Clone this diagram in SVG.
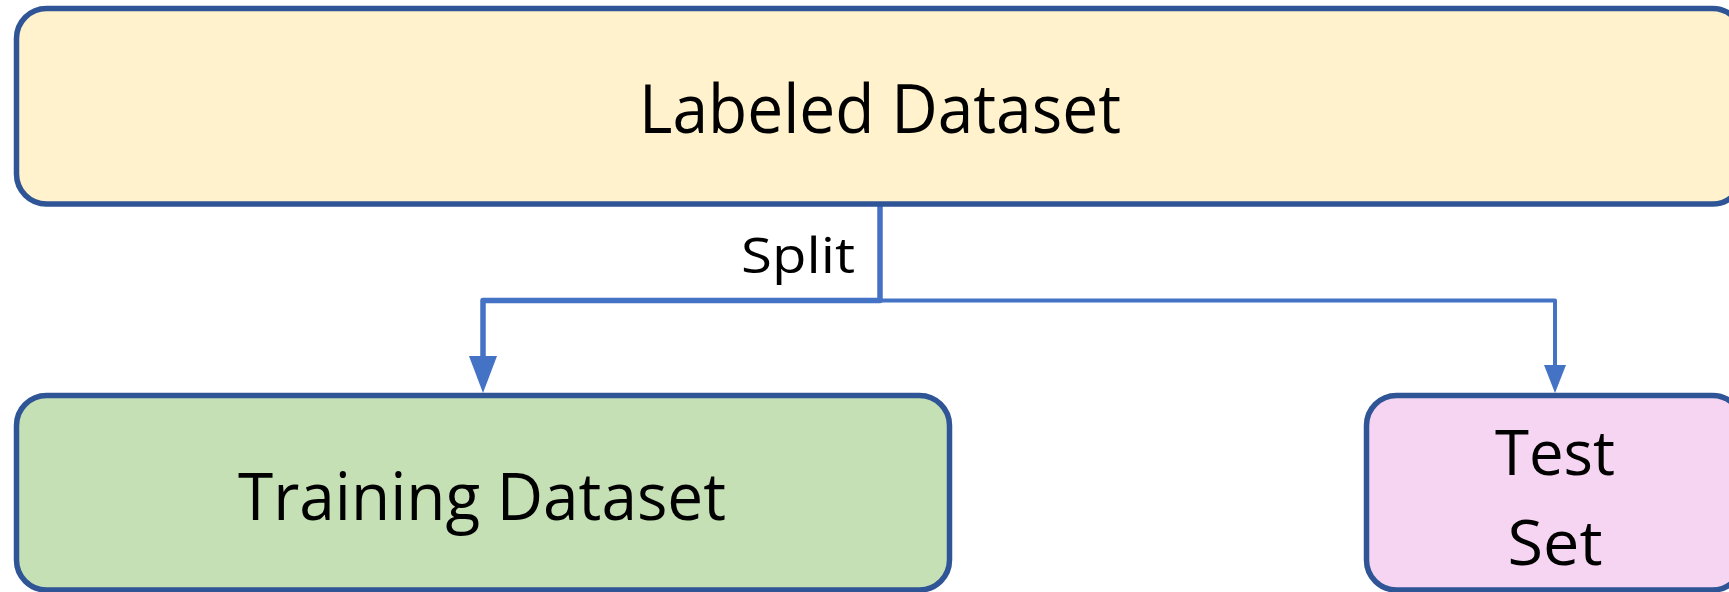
<svg xmlns="http://www.w3.org/2000/svg" width="1729" height="592" viewBox="0 0 1729 592">
  <style>
    .box { stroke: #2F5597; stroke-width: 5.5; }
    .label { font-family: "Open Sans", "Noto Sans", "Liberation Sans", sans-serif; fill: #000000; text-anchor: middle; }
    .conn { fill: none; stroke: #4472C4; stroke-linejoin: round; }
  </style>
  <defs>
    <marker id="arrow-large" markerUnits="userSpaceOnUse" markerWidth="40" markerHeight="30" viewBox="0 -15 40 30" refX="0" refY="0" orient="auto">
      <path d="M0,-14 L37,0 L0,14 Z" fill="#4472C4"/>
    </marker>
    <marker id="arrow-small" markerUnits="userSpaceOnUse" markerWidth="32" markerHeight="26" viewBox="0 -13 32 26" refX="0" refY="0" orient="auto">
      <path d="M0,-11 L28,0 L0,11 Z" fill="#4472C4"/>
    </marker>
  </defs>

  <g id="connectors">
    <path class="conn" d="M880,205 V300.5 H1555 V365" stroke-width="4" marker-end="url(#arrow-small)"/>
    <path class="conn" d="M880,205 V300.5 H483 V356" stroke-width="5.5" marker-end="url(#arrow-large)"/>
    <text class="label" x="798" y="273" font-size="50" textLength="114" lengthAdjust="spacingAndGlyphs">Split</text>
  </g>

  <g id="labeled-dataset">
    <rect class="box" x="16.5" y="8.5" width="1726" height="195.5" rx="30" fill="#FFF2CC"/>
    <text class="label" x="880" y="133" font-size="67" textLength="482" lengthAdjust="spacingAndGlyphs">Labeled Dataset</text>
  </g>

  <g id="training-dataset">
    <rect class="box" x="16.5" y="395.5" width="933" height="194.5" rx="30" fill="#C5E0B4"/>
    <text class="label" x="482" y="520" font-size="66" textLength="488" lengthAdjust="spacingAndGlyphs">Training Dataset</text>
  </g>

  <g id="test-set">
    <rect class="box" x="1366.5" y="395.5" width="376" height="194.5" rx="30" fill="#F5D5F1"/>
    <text class="label" x="1555" y="475" font-size="63" textLength="120" lengthAdjust="spacingAndGlyphs">Test</text>
    <text class="label" x="1555" y="565" font-size="63" textLength="95" lengthAdjust="spacingAndGlyphs">Set</text>
  </g>
</svg>
